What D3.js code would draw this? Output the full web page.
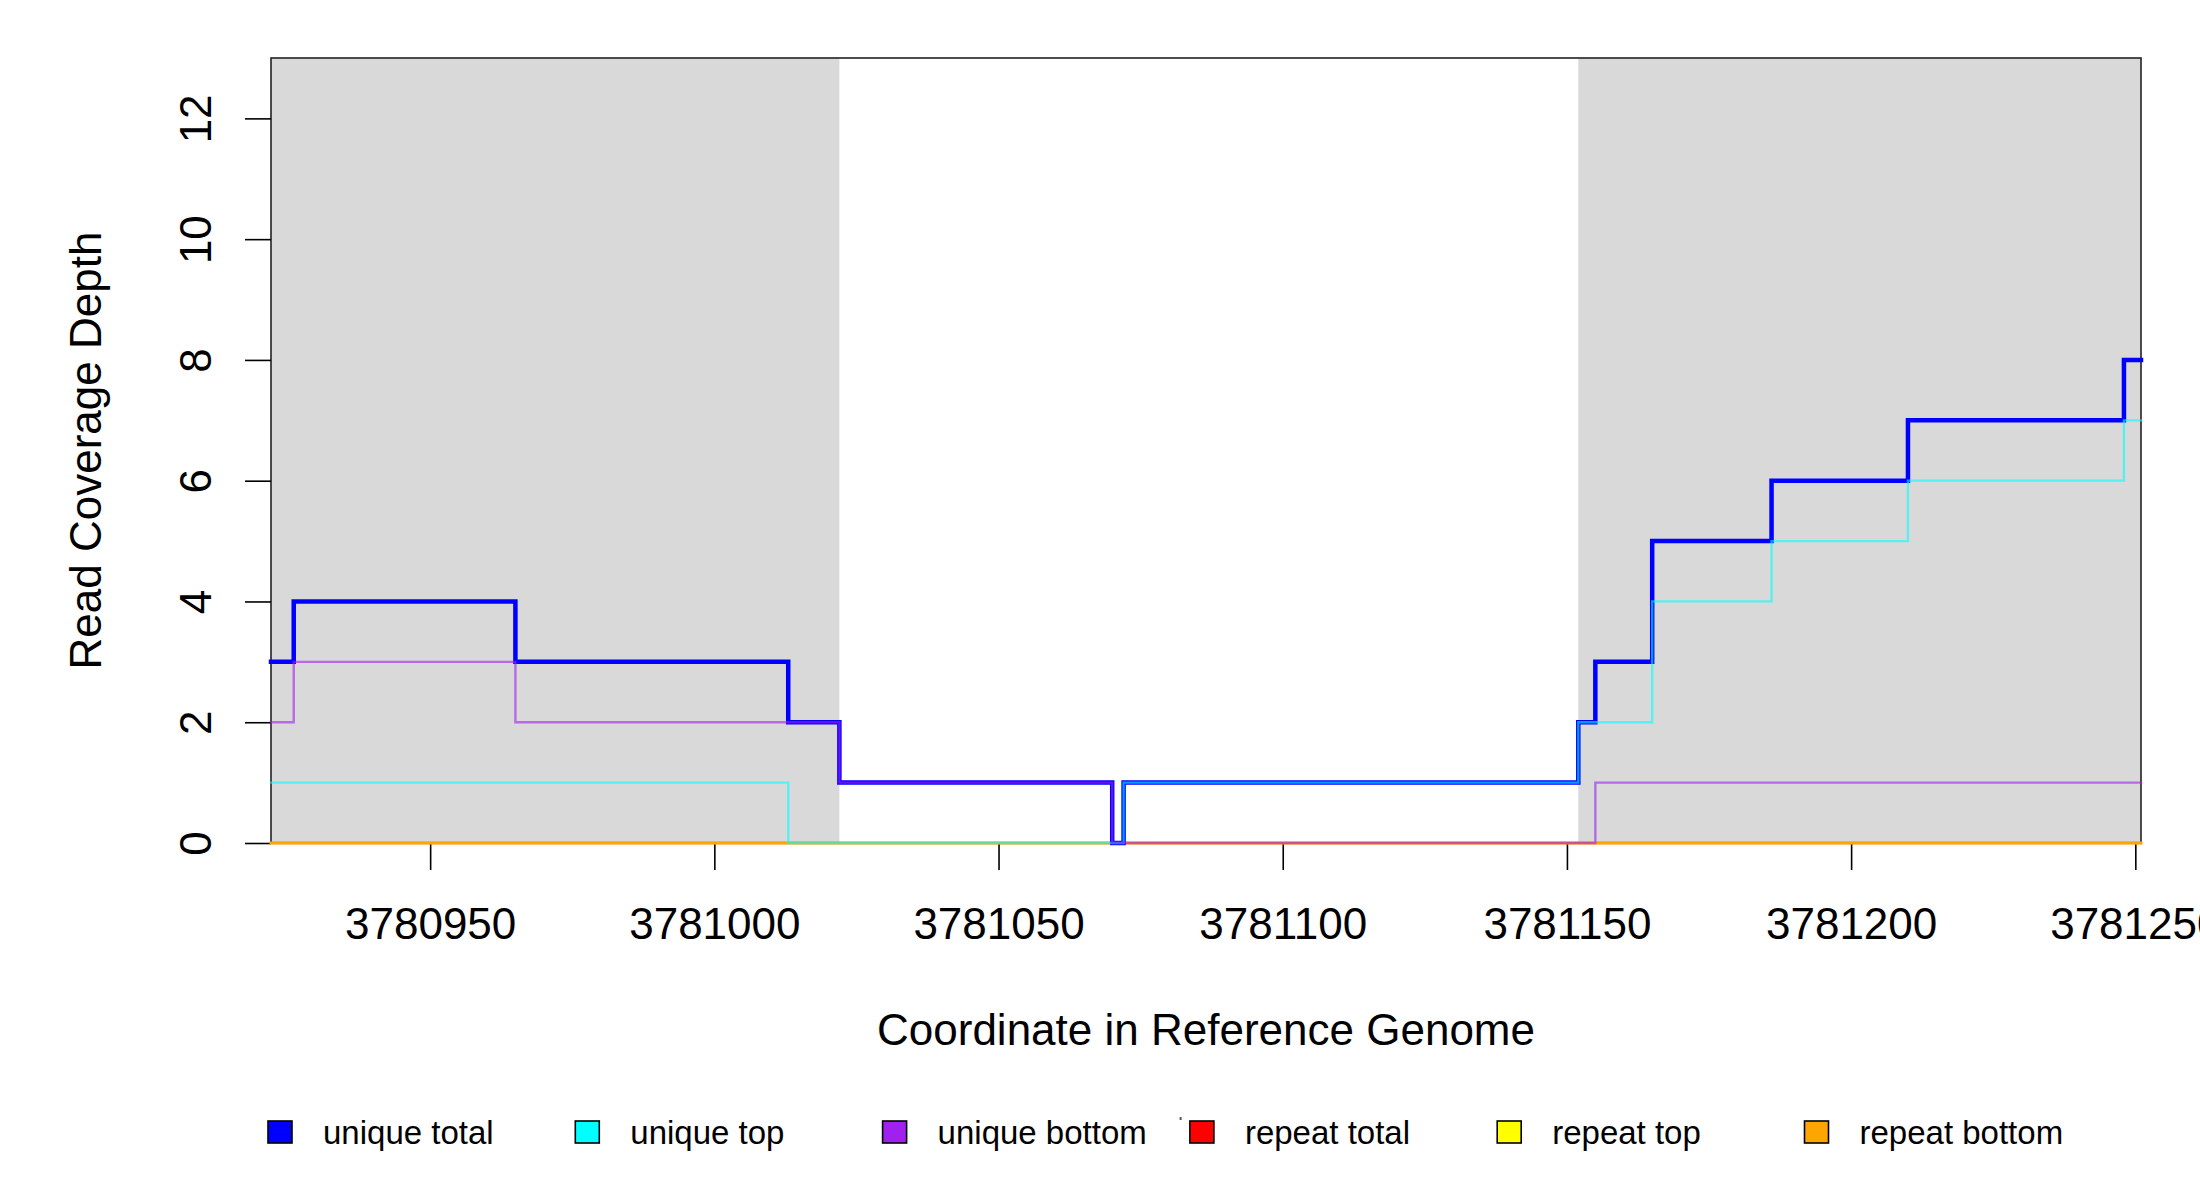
<!DOCTYPE html>
<html>
<head>
<meta charset="utf-8">
<script src="https://cdn.jsdelivr.net/npm/d3@7"></script>
<style>
  html, body { margin: 0; padding: 0; background: #ffffff; overflow: hidden; }
  svg { display: block; }
  text { font-family: "Liberation Sans", Arial, Helvetica, sans-serif; fill: #000; }
</style>
</head>
<body>
<svg id="chart" width="2200" height="1200"></svg>
<script>
// ---- data ----
const positions = [3780922, 3780926, 3780965, 3781013, 3781022, 3781070, 3781072,
                   3781152, 3781155, 3781165, 3781186, 3781210, 3781248, 3781251];
const uniqueTotal  = [3, 4, 3, 2, 1, 0, 1, 2, 3, 5, 6, 7, 8];
const uniqueTop    = [1, 1, 1, 0, 0, 0, 1, 2, 2, 4, 5, 6, 7];
const uniqueBottom = [2, 3, 2, 2, 1, 0, 0, 0, 1, 1, 1, 1, 1];
const repeatTotal  = [0, 0, 0, 0, 0, 0, 0, 0, 0, 0, 0, 0, 0];
const repeatTop    = [0, 0, 0, 0, 0, 0, 0, 0, 0, 0, 0, 0, 0];
const repeatBottom = [0, 0, 0, 0, 0, 0, 0, 0, 0, 0, 0, 0, 0];
const shadeStart = [3780922, 3781152];
const shadeEnd   = [3781022, 3781251];
const xTicks = [3780950, 3781000, 3781050, 3781100, 3781150, 3781200, 3781250];
const yTicks = [0, 2, 4, 6, 8, 10, 12];
const legendLabels = ["unique total", "unique top", "unique bottom", "repeat total", "repeat top", "repeat bottom"];
const legendColors = ["#0000ff", "#00ffff", "#a020f0", "#ff0000", "#ffff00", "#ffa500"];

// ---- layout ----
const L = 271, R = 2141, T = 58, B = 843;
const svg = d3.select("#chart");
const x = d3.scaleLinear().domain([3780922, 3781251]).range([L, R]);
const y = d3.scaleLinear().domain([0, 13]).range([B, T]);

// shaded regions
svg.append("g").selectAll("rect").data(shadeStart).join("rect")
  .attr("x", (d, i) => x(d))
  .attr("y", T)
  .attr("width", (d, i) => x(shadeEnd[i]) - x(d))
  .attr("height", B - T)
  .attr("fill", "#d9d9d9");

// box
svg.append("rect")
  .attr("x", L).attr("y", T).attr("width", R - L).attr("height", B - T)
  .attr("fill", "none").attr("stroke", "#222").attr("stroke-width", 1.6);

// x axis
const gx = svg.append("g").attr("transform", `translate(0,${B})`)
  .call(d3.axisBottom(x).tickValues(xTicks).tickFormat(d3.format("d"))
        .tickSize(27).tickPadding(38).tickSizeOuter(0));
gx.select(".domain").remove();
gx.selectAll(".tick line").attr("stroke", "#000").attr("stroke-width", 1.6);
gx.selectAll(".tick text").attr("font-size", 44)
  .attr("font-family", '"Liberation Sans", Arial, sans-serif').attr("fill", "#000");

// y axis
const gy = svg.append("g").attr("transform", `translate(${L},0)`)
  .call(d3.axisLeft(y).tickValues(yTicks).tickSize(26).tickSizeOuter(0));
gy.select(".domain").remove();
gy.selectAll(".tick line").attr("stroke", "#000").attr("stroke-width", 1.6);
gy.selectAll(".tick text")
  .attr("x", null).attr("y", null).attr("dy", null)
  .attr("text-anchor", "middle")
  .attr("transform", "translate(-60,0) rotate(-90)")
  .attr("font-size", 44)
  .attr("font-family", '"Liberation Sans", Arial, sans-serif').attr("fill", "#000");

// step lines (drawn over the box, as in the reference)
function pts(vals) {
  const p = vals.map((v, i) => [positions[i], v]);
  p.push([positions[positions.length - 1], vals[vals.length - 1]]);
  return p;
}
const line = d3.line().x(d => x(d[0])).y(d => y(d[1])).curve(d3.curveStepAfter);
const series = [
  { vals: repeatTotal,  color: "#ff0000", w: 2.4, op: 1 },
  { vals: repeatTop,    color: "#ffff00", w: 2.4, op: 1 },
  { vals: repeatBottom, color: "#ffa500", w: 2.4, op: 1 },
  { vals: uniqueTotal,  color: "#0000ff", w: 4.5, op: 1 },
  { vals: uniqueTop,    color: "#00ffff", w: 2.3, op: 0.6 },
  { vals: uniqueBottom, color: "#a020f0", w: 2.4, op: 0.6 }
];
svg.append("g").selectAll("path").data(series).join("path")
  .attr("d", s => line(pts(s.vals)))
  .attr("fill", "none")
  .attr("stroke", s => s.color)
  .attr("stroke-width", s => s.w)
  .attr("stroke-opacity", s => s.op)
  .attr("stroke-linejoin", "miter")
  .attr("stroke-linecap", "square");

// axis titles
svg.append("text")
  .attr("x", (L + R) / 2).attr("y", 1045)
  .attr("text-anchor", "middle").attr("font-size", 44)
  .text("Coordinate in Reference Genome");
svg.append("text")
  .attr("transform", `translate(101,${(T + B) / 2}) rotate(-90)`)
  .attr("text-anchor", "middle").attr("font-size", 44)
  .text("Read Coverage Depth");

// legend
const step = 307.3;
const lg = svg.append("g");
const items = lg.selectAll("g").data(legendLabels).join("g")
  .attr("transform", (d, i) => `translate(${268 + i * step},1121)`);
items.append("rect")
  .attr("width", 24).attr("height", 22)
  .attr("fill", (d, i) => legendColors[i])
  .attr("stroke", "#000").attr("stroke-width", 1.6);
items.append("text")
  .attr("x", 55).attr("y", 23)
  .attr("font-size", 33)
  .text(d => d);
// tiny stray mark seen after "unique bottom"
lg.append("rect")
  .attr("x", 268 + 2 * step + 297).attr("y", 1117)
  .attr("width", 2).attr("height", 3).attr("fill", "#555");
</script>
</body>
</html>
